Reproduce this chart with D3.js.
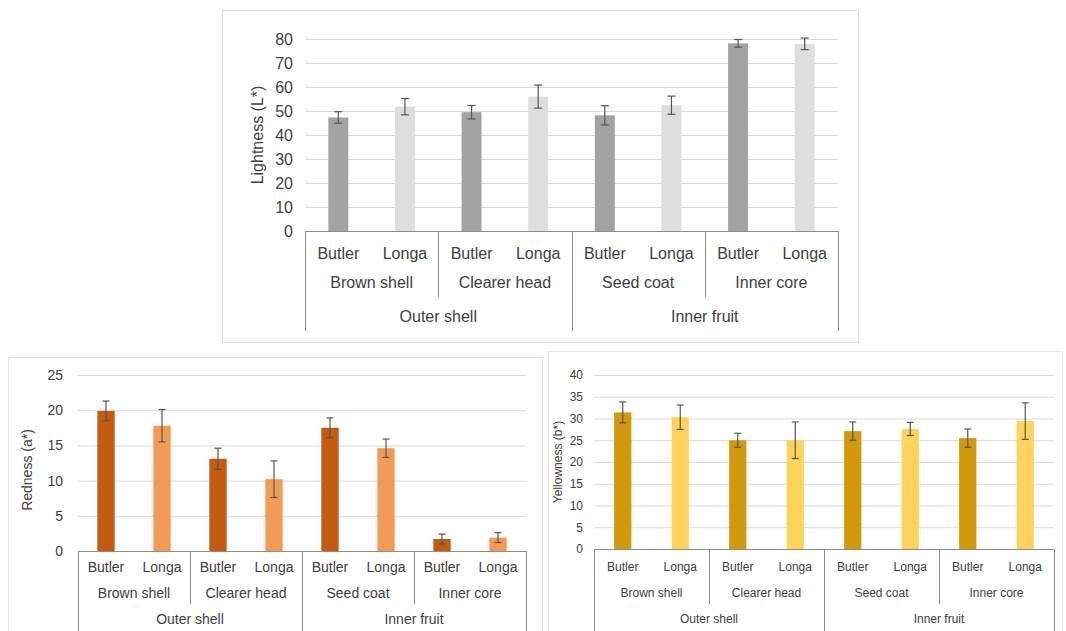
<!DOCTYPE html>
<html><head><meta charset="utf-8">
<script src="https://cdn.jsdelivr.net/npm/d3@7"></script>
<style>
html,body{margin:0;padding:0;background:#fff;}
svg{display:block;font-family:"Liberation Sans",Arial,sans-serif;}
</style></head>
<body>
<svg id="chart" width="1066" height="631"></svg>
<script>
// ---------- data ----------
const varieties = ["Butler","Longa"];
const parts = ["Brown shell","Clearer head","Seed coat","Inner core"];
const regions = ["Outer shell","Inner fruit"];

const lightnessMean = [47.3, 51.8, 49.5, 56.0, 48.2, 52.4, 78.2, 78.0];
const lightnessErr  = [2.4, 3.4, 2.8, 4.8, 4.0, 3.8, 1.6, 2.4];
const lightnessTicks = [0,10,20,30,40,50,60,70,80];

const rednessMean = [19.9, 17.8, 13.1, 10.2, 17.5, 14.6, 1.7, 1.9];
const rednessErr  = [1.4, 2.3, 1.5, 2.6, 1.4, 1.3, 0.7, 0.7];
const rednessTicks = [0,5,10,15,20,25];

const yellownessMean = [31.4, 30.3, 25.0, 25.0, 27.1, 27.6, 25.5, 29.4];
const yellownessErr  = [2.4, 2.8, 1.6, 4.2, 2.1, 1.5, 2.1, 4.2];
const yellownessTicks = [0,5,10,15,20,25,30,35,40];

// ---------- drawing ----------
const svg = d3.select("#chart");

// panel frames
svg.append("rect").attr("x",222.5).attr("y",10.5).attr("width",636).attr("height",332)
  .attr("fill","none").attr("stroke","#dcdcdc");
svg.append("rect").attr("x",8.5).attr("y",357.5).attr("width",534).attr("height",280)
  .attr("fill","none").attr("stroke","#e2e2e2");
svg.append("rect").attr("x",548.5).attr("y",351.5).attr("width",514).attr("height",290)
  .attr("fill","none").attr("stroke","#e6e6e6");

const slots = [];
regions.forEach((r,ri)=>{
  parts.slice(ri*2, ri*2+2).forEach(p=>{
    varieties.forEach(v=>slots.push(p+"|"+v));
  });
});

function drawChart(cfg){
  const g = svg.append("g");
  const x = d3.scaleBand().domain(slots).range([cfg.left, cfg.right]).paddingInner(cfg.pad).paddingOuter(cfg.pad/2);
  const y = d3.scaleLinear().domain([0, d3.max(cfg.ticks)]).range([cfg.bottom, cfg.top]);

  // gridlines
  const grid = d3.axisLeft(y).tickValues(cfg.ticks.filter(t=>t>0)).tickSize(-(cfg.right-cfg.left)).tickFormat("");
  g.append("g").attr("transform",`translate(${cfg.left},0)`).call(grid)
    .call(s=>s.select(".domain").remove())
    .call(s=>s.selectAll("line").attr("stroke","#d9d9d9").attr("stroke-width",1));

  // y tick labels
  const ya = d3.axisLeft(y).tickValues(cfg.ticks).tickSize(0).tickPadding(cfg.tickPad);
  g.append("g").attr("transform",`translate(${cfg.left},0)`).call(ya)
    .call(s=>s.select(".domain").remove())
    .call(s=>s.selectAll("text").attr("font-size",cfg.fs).attr("fill","#404040")
      .attr("font-family","Liberation Sans, Arial, sans-serif"));

  // bars
  g.selectAll("rect.bar").data(cfg.mean).join("rect").attr("class","bar")
    .attr("x",(d,i)=>x(slots[i])).attr("width",x.bandwidth())
    .attr("y",d=>y(d)).attr("height",d=>y(0)-y(d))
    .attr("fill",(d,i)=>cfg.colors[i%2]);

  // error bars
  const eb = g.selectAll("g.err").data(cfg.mean).join("g").attr("class","err")
    .attr("stroke","#555").attr("stroke-width",1.2);
  eb.append("line").attr("x1",(d,i)=>x(slots[i])+x.bandwidth()/2).attr("x2",(d,i)=>x(slots[i])+x.bandwidth()/2)
    .attr("y1",(d,i)=>y(d-cfg.err[i])).attr("y2",(d,i)=>y(d+cfg.err[i]));
  [1,-1].forEach(sg=>{
    eb.append("line").attr("x1",(d,i)=>x(slots[i])+x.bandwidth()/2-cfg.cap).attr("x2",(d,i)=>x(slots[i])+x.bandwidth()/2+cfg.cap)
      .attr("y1",(d,i)=>y(d+sg*cfg.err[i])).attr("y2",(d,i)=>y(d+sg*cfg.err[i]));
  });

  // x axis baseline
  g.append("line").attr("x1",cfg.left).attr("x2",cfg.right).attr("y1",y(0)+0.5).attr("y2",y(0)+0.5)
    .attr("stroke","#8c8c8c").attr("stroke-width",1);

  const step = x.step();
  const slotX = i => cfg.left + i*step;
  // separators
  for(let i=0;i<=8;i+=2){
    const major = (i%4===0);
    g.append("line").attr("x1",Math.round(slotX(i))+0.5).attr("x2",Math.round(slotX(i))+0.5)
      .attr("y1",y(0)).attr("y2",major?cfg.majorEnd:cfg.minorEnd)
      .attr("stroke","#8c8c8c").attr("stroke-width",1);
  }
  // level 1 labels
  g.selectAll("text.l1").data(slots).join("text").attr("class","l1")
    .attr("x",(d,i)=>x(d)+x.bandwidth()/2).attr("y",cfg.l1y).attr("text-anchor","middle")
    .attr("dominant-baseline","middle").attr("font-size",cfg.fs).attr("fill","#404040")
    .text(d=>d.split("|")[1]);
  // level 2
  g.selectAll("text.l2").data(parts).join("text").attr("class","l2")
    .attr("x",(d,i)=>slotX(i*2+1)).attr("y",cfg.l2y).attr("text-anchor","middle")
    .attr("dominant-baseline","middle").attr("font-size",cfg.fs).attr("fill","#404040").text(d=>d);
  // level 3
  g.selectAll("text.l3").data(regions).join("text").attr("class","l3")
    .attr("x",(d,i)=>slotX(i*4+2)).attr("y",cfg.l3y).attr("text-anchor","middle")
    .attr("dominant-baseline","middle").attr("font-size",cfg.fs).attr("fill","#404040").text(d=>d);

  // y title
  g.append("text").attr("transform",`translate(${cfg.titleX},${cfg.titleY}) rotate(-90)`)
    .attr("text-anchor","middle").attr("dominant-baseline","middle")
    .attr("font-size",cfg.fs).attr("fill","#404040").text(cfg.title);
}

drawChart({left:305,right:838,top:39,bottom:231,ticks:lightnessTicks,mean:lightnessMean,err:lightnessErr,
  colors:["#a3a3a3","#dedede"],pad:0.7,cap:4,fs:16,tickPad:12,l1y:255,l2y:284,l3y:318,
  minorEnd:297,majorEnd:331,title:"Lightness (L*)",titleX:259,titleY:135});

drawChart({left:78,right:526,top:375,bottom:551,ticks:rednessTicks,mean:rednessMean,err:rednessErr,
  colors:["#c55a11","#f29b55"],pad:0.69,cap:3.5,fs:14,tickPad:15,l1y:568,l2y:594,l3y:620,
  minorEnd:604,majorEnd:631,title:"Redness (a*)",titleX:28,titleY:470});

drawChart({left:594,right:1054,top:375,bottom:549,ticks:yellownessTicks,mean:yellownessMean,err:yellownessErr,
  colors:["#d19a0c","#fdd35c"],pad:0.7,cap:3.5,fs:12,tickPad:11,l1y:568,l2y:594,l3y:620,
  minorEnd:604,majorEnd:631,title:"Yellowness (b*)",titleX:559,titleY:462});
</script>
</body></html>
